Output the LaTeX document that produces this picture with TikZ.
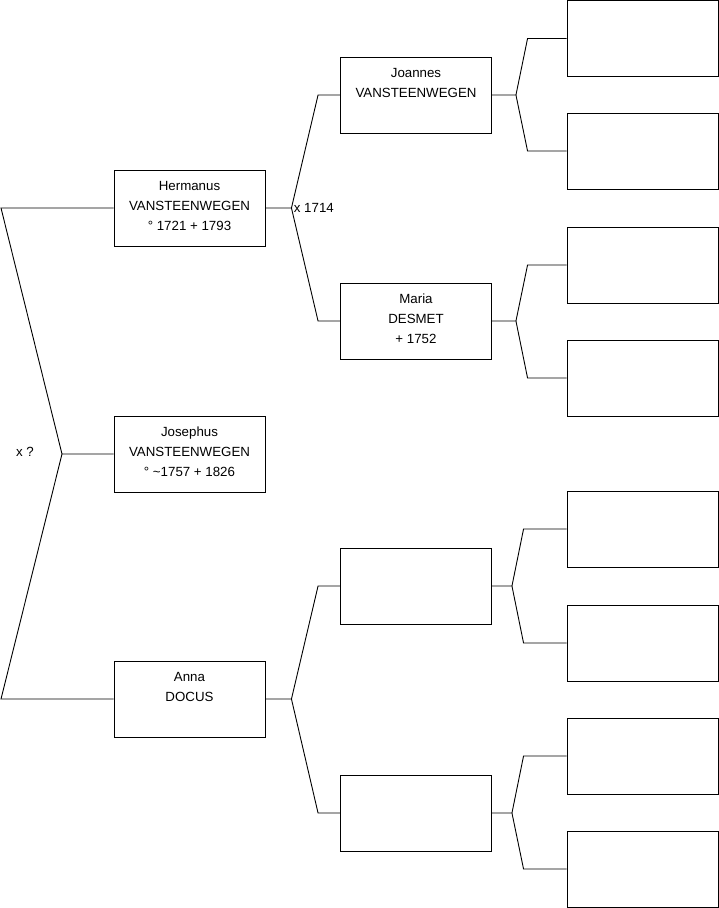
\documentclass[tikz,border=0pt]{standalone}
\usepackage{fontspec}
\setmainfont{Liberation Sans}
\usetikzlibrary{calc}

\begin{document}
\begin{tikzpicture}[
  x=1pt, y=-1pt,
  line width=0.9pt,
  person/.style={
    draw,
    rectangle,
    minimum width=151pt,
    minimum height=76pt,
    inner sep=0pt
  },
  ptext/.style={
    anchor=north,
    align=center,
    inner sep=0pt,
    font=\fontsize{13.3}{20}\selectfont
  },
  wedtext/.style={
    inner sep=0pt,
    font=\fontsize{13.3}{20}\selectfont
  }
]

\useasboundingbox (0,0) rectangle (719,908);

% --- Generation 1 ---
\node[person] (hermanus) at (189.5, 208) {};
\node[person] (josephus) at (189.5, 454) {};
\node[person] (anna)     at (189.5, 699) {};

\node[ptext] (hermanus-t) at ([yshift=-11.2pt]hermanus.north) {Hermanus\\VANSTEENWEGEN\\° 1721 + 1793};
\node[ptext] (josephus-t) at ([yshift=-11.2pt]josephus.north) {Josephus\\VANSTEENWEGEN\\° \textasciitilde1757 + 1826};
\node[ptext] (anna-t)     at ([yshift=-11.2pt]anna.north)     {Anna\\DOCUS};

% --- Generation 2 ---
\node[person] (joannes) at (416, 95)  {};
\node[person] (maria)   at (416, 321) {};
\node[person] (annaf)   at (416, 586) {};
\node[person] (annam)   at (416, 813) {};

\node[ptext] (joannes-t) at ([yshift=-11.2pt]joannes.north) {Joannes\\VANSTEENWEGEN};
\node[ptext] (maria-t)   at ([yshift=-11.2pt]maria.north)   {Maria\\DESMET\\+ 1752};

% --- Generation 3 (empty) ---
\foreach \i/\y in {1/38.5, 2/151, 3/265, 4/378, 5/529, 6/643, 7/756, 8/869}
  \node[person] (gg\i) at (642.5, \y) {};

% --- Left bracket: parents -> child ---
\coordinate (top-l) at (1, 208);
\coordinate (bot-l) at (1, 699);
\coordinate (fork-josephus) at (62, 454);
\draw (hermanus.west) -- (top-l) -- (fork-josephus) -- (josephus.west);
\draw (fork-josephus) -- (bot-l) -- (anna.west);
\node[wedtext] (wed-josephus) at (25, 452) {x ?};

% --- Forks: person -> father / mother ---
% parent / father / mother / fork offset / branch offset
\foreach \p/\a/\b/\fx/\bx in {
  hermanus/joannes/maria/26/22,
  anna/annaf/annam/26/22,
  joannes/gg1/gg2/24/39,
  maria/gg3/gg4/24/39,
  annaf/gg5/gg6/20/43,
  annam/gg7/gg8/20/43}{
  \coordinate (fork-\p) at ($(\p.east)+(\fx,0)$);
  \draw (\p.east) -- (fork-\p) -- ($(\a.west)+(-\bx,0)$) -- (\a.west);
  \draw (fork-\p) -- ($(\b.west)+(-\bx,0)$) -- (\b.west);
}

\node[wedtext, anchor=west] (wed-hermanus) at ([xshift=2pt]fork-hermanus) {x 1714};

\end{tikzpicture}
\end{document}
